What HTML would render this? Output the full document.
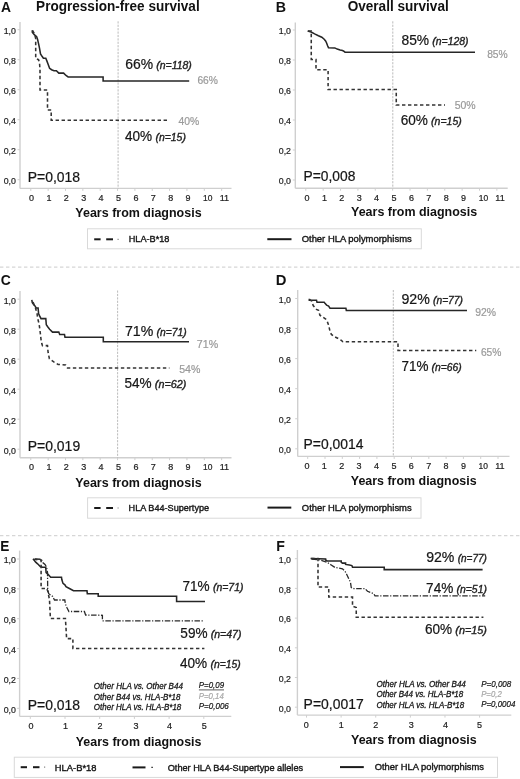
<!DOCTYPE html>
<html><head><meta charset="utf-8"><title>Kaplan-Meier survival curves</title>
<style>
html,body{margin:0;padding:0;background:#fff;width:520px;height:779px;overflow:hidden}
svg{display:block;filter:blur(0.3px);font-family:"Liberation Sans", sans-serif}
</style></head><body>
<svg width="520" height="779" viewBox="0 0 520 779" font-family='"Liberation Sans", sans-serif'>
<line x1="20.00" y1="22.00" x2="20.00" y2="188.40" stroke="#cfcfcf" stroke-width="1.4"/>
<line x1="20.00" y1="188.40" x2="231.50" y2="188.40" stroke="#cfcfcf" stroke-width="1.4"/>
<line x1="17.50" y1="179.70" x2="20.00" y2="179.70" stroke="#cfcfcf" stroke-width="1"/>
<text x="15.90" y="184.00" font-size="9.7" fill="#222" stroke="#222" stroke-width="0.22" text-anchor="end" textLength="12.20" lengthAdjust="spacingAndGlyphs">0,0</text>
<line x1="17.50" y1="149.70" x2="20.00" y2="149.70" stroke="#cfcfcf" stroke-width="1"/>
<text x="15.90" y="154.00" font-size="9.7" fill="#222" stroke="#222" stroke-width="0.22" text-anchor="end" textLength="12.20" lengthAdjust="spacingAndGlyphs">0,2</text>
<line x1="17.50" y1="119.70" x2="20.00" y2="119.70" stroke="#cfcfcf" stroke-width="1"/>
<text x="15.90" y="124.00" font-size="9.7" fill="#222" stroke="#222" stroke-width="0.22" text-anchor="end" textLength="12.20" lengthAdjust="spacingAndGlyphs">0,4</text>
<line x1="17.50" y1="89.70" x2="20.00" y2="89.70" stroke="#cfcfcf" stroke-width="1"/>
<text x="15.90" y="94.00" font-size="9.7" fill="#222" stroke="#222" stroke-width="0.22" text-anchor="end" textLength="12.20" lengthAdjust="spacingAndGlyphs">0,6</text>
<line x1="17.50" y1="59.70" x2="20.00" y2="59.70" stroke="#cfcfcf" stroke-width="1"/>
<text x="15.90" y="64.00" font-size="9.7" fill="#222" stroke="#222" stroke-width="0.22" text-anchor="end" textLength="12.20" lengthAdjust="spacingAndGlyphs">0,8</text>
<line x1="17.50" y1="29.70" x2="20.00" y2="29.70" stroke="#cfcfcf" stroke-width="1"/>
<text x="15.90" y="34.00" font-size="9.7" fill="#222" stroke="#222" stroke-width="0.22" text-anchor="end" textLength="12.20" lengthAdjust="spacingAndGlyphs">1,0</text>
<line x1="30.80" y1="188.40" x2="30.80" y2="190.90" stroke="#cfcfcf" stroke-width="1"/>
<text x="31.50" y="200.60" font-size="9.7" fill="#222" stroke="#222" stroke-width="0.22" text-anchor="middle" textLength="5.00" lengthAdjust="spacingAndGlyphs">0</text>
<line x1="48.15" y1="188.40" x2="48.15" y2="190.90" stroke="#cfcfcf" stroke-width="1"/>
<text x="48.90" y="200.60" font-size="9.7" fill="#222" stroke="#222" stroke-width="0.22" text-anchor="middle" textLength="5.00" lengthAdjust="spacingAndGlyphs">1</text>
<line x1="65.50" y1="188.40" x2="65.50" y2="190.90" stroke="#cfcfcf" stroke-width="1"/>
<text x="66.30" y="200.60" font-size="9.7" fill="#222" stroke="#222" stroke-width="0.22" text-anchor="middle" textLength="5.00" lengthAdjust="spacingAndGlyphs">2</text>
<line x1="82.85" y1="188.40" x2="82.85" y2="190.90" stroke="#cfcfcf" stroke-width="1"/>
<text x="83.70" y="200.60" font-size="9.7" fill="#222" stroke="#222" stroke-width="0.22" text-anchor="middle" textLength="5.00" lengthAdjust="spacingAndGlyphs">3</text>
<line x1="100.20" y1="188.40" x2="100.20" y2="190.90" stroke="#cfcfcf" stroke-width="1"/>
<text x="101.10" y="200.60" font-size="9.7" fill="#222" stroke="#222" stroke-width="0.22" text-anchor="middle" textLength="5.00" lengthAdjust="spacingAndGlyphs">4</text>
<line x1="117.55" y1="188.40" x2="117.55" y2="190.90" stroke="#cfcfcf" stroke-width="1"/>
<text x="118.50" y="200.60" font-size="9.7" fill="#222" stroke="#222" stroke-width="0.22" text-anchor="middle" textLength="5.00" lengthAdjust="spacingAndGlyphs">5</text>
<line x1="134.90" y1="188.40" x2="134.90" y2="190.90" stroke="#cfcfcf" stroke-width="1"/>
<text x="135.90" y="200.60" font-size="9.7" fill="#222" stroke="#222" stroke-width="0.22" text-anchor="middle" textLength="5.00" lengthAdjust="spacingAndGlyphs">6</text>
<line x1="152.25" y1="188.40" x2="152.25" y2="190.90" stroke="#cfcfcf" stroke-width="1"/>
<text x="153.30" y="200.60" font-size="9.7" fill="#222" stroke="#222" stroke-width="0.22" text-anchor="middle" textLength="5.00" lengthAdjust="spacingAndGlyphs">7</text>
<line x1="169.60" y1="188.40" x2="169.60" y2="190.90" stroke="#cfcfcf" stroke-width="1"/>
<text x="170.70" y="200.60" font-size="9.7" fill="#222" stroke="#222" stroke-width="0.22" text-anchor="middle" textLength="5.00" lengthAdjust="spacingAndGlyphs">8</text>
<line x1="186.95" y1="188.40" x2="186.95" y2="190.90" stroke="#cfcfcf" stroke-width="1"/>
<text x="188.10" y="200.60" font-size="9.7" fill="#222" stroke="#222" stroke-width="0.22" text-anchor="middle" textLength="5.00" lengthAdjust="spacingAndGlyphs">9</text>
<line x1="204.30" y1="188.40" x2="204.30" y2="190.90" stroke="#cfcfcf" stroke-width="1"/>
<text x="207.70" y="200.60" font-size="9.7" fill="#222" stroke="#222" stroke-width="0.22" text-anchor="middle" textLength="9.40" lengthAdjust="spacingAndGlyphs">10</text>
<line x1="221.65" y1="188.40" x2="221.65" y2="190.90" stroke="#cfcfcf" stroke-width="1"/>
<text x="224.40" y="200.60" font-size="9.7" fill="#222" stroke="#222" stroke-width="0.22" text-anchor="middle" textLength="9.40" lengthAdjust="spacingAndGlyphs">11</text>
<line x1="295.30" y1="22.50" x2="295.30" y2="188.20" stroke="#cfcfcf" stroke-width="1.4"/>
<line x1="295.30" y1="188.20" x2="507.70" y2="188.20" stroke="#cfcfcf" stroke-width="1.4"/>
<line x1="292.80" y1="180.00" x2="295.30" y2="180.00" stroke="#cfcfcf" stroke-width="1"/>
<text x="291.00" y="184.30" font-size="9.7" fill="#222" stroke="#222" stroke-width="0.22" text-anchor="end" textLength="12.20" lengthAdjust="spacingAndGlyphs">0,0</text>
<line x1="292.80" y1="150.00" x2="295.30" y2="150.00" stroke="#cfcfcf" stroke-width="1"/>
<text x="291.00" y="154.30" font-size="9.7" fill="#222" stroke="#222" stroke-width="0.22" text-anchor="end" textLength="12.20" lengthAdjust="spacingAndGlyphs">0,2</text>
<line x1="292.80" y1="120.00" x2="295.30" y2="120.00" stroke="#cfcfcf" stroke-width="1"/>
<text x="291.00" y="124.30" font-size="9.7" fill="#222" stroke="#222" stroke-width="0.22" text-anchor="end" textLength="12.20" lengthAdjust="spacingAndGlyphs">0,4</text>
<line x1="292.80" y1="90.00" x2="295.30" y2="90.00" stroke="#cfcfcf" stroke-width="1"/>
<text x="291.00" y="94.30" font-size="9.7" fill="#222" stroke="#222" stroke-width="0.22" text-anchor="end" textLength="12.20" lengthAdjust="spacingAndGlyphs">0,6</text>
<line x1="292.80" y1="60.00" x2="295.30" y2="60.00" stroke="#cfcfcf" stroke-width="1"/>
<text x="291.00" y="64.30" font-size="9.7" fill="#222" stroke="#222" stroke-width="0.22" text-anchor="end" textLength="12.20" lengthAdjust="spacingAndGlyphs">0,8</text>
<line x1="292.80" y1="30.00" x2="295.30" y2="30.00" stroke="#cfcfcf" stroke-width="1"/>
<text x="291.00" y="34.30" font-size="9.7" fill="#222" stroke="#222" stroke-width="0.22" text-anchor="end" textLength="12.20" lengthAdjust="spacingAndGlyphs">1,0</text>
<line x1="305.80" y1="188.20" x2="305.80" y2="190.70" stroke="#cfcfcf" stroke-width="1"/>
<text x="307.00" y="200.50" font-size="9.7" fill="#222" stroke="#222" stroke-width="0.22" text-anchor="middle" textLength="5.00" lengthAdjust="spacingAndGlyphs">0</text>
<line x1="323.17" y1="188.20" x2="323.17" y2="190.70" stroke="#cfcfcf" stroke-width="1"/>
<text x="324.40" y="200.50" font-size="9.7" fill="#222" stroke="#222" stroke-width="0.22" text-anchor="middle" textLength="5.00" lengthAdjust="spacingAndGlyphs">1</text>
<line x1="340.54" y1="188.20" x2="340.54" y2="190.70" stroke="#cfcfcf" stroke-width="1"/>
<text x="341.80" y="200.50" font-size="9.7" fill="#222" stroke="#222" stroke-width="0.22" text-anchor="middle" textLength="5.00" lengthAdjust="spacingAndGlyphs">2</text>
<line x1="357.91" y1="188.20" x2="357.91" y2="190.70" stroke="#cfcfcf" stroke-width="1"/>
<text x="359.20" y="200.50" font-size="9.7" fill="#222" stroke="#222" stroke-width="0.22" text-anchor="middle" textLength="5.00" lengthAdjust="spacingAndGlyphs">3</text>
<line x1="375.28" y1="188.20" x2="375.28" y2="190.70" stroke="#cfcfcf" stroke-width="1"/>
<text x="376.60" y="200.50" font-size="9.7" fill="#222" stroke="#222" stroke-width="0.22" text-anchor="middle" textLength="5.00" lengthAdjust="spacingAndGlyphs">4</text>
<line x1="392.65" y1="188.20" x2="392.65" y2="190.70" stroke="#cfcfcf" stroke-width="1"/>
<text x="394.00" y="200.50" font-size="9.7" fill="#222" stroke="#222" stroke-width="0.22" text-anchor="middle" textLength="5.00" lengthAdjust="spacingAndGlyphs">5</text>
<line x1="410.02" y1="188.20" x2="410.02" y2="190.70" stroke="#cfcfcf" stroke-width="1"/>
<text x="411.40" y="200.50" font-size="9.7" fill="#222" stroke="#222" stroke-width="0.22" text-anchor="middle" textLength="5.00" lengthAdjust="spacingAndGlyphs">6</text>
<line x1="427.39" y1="188.20" x2="427.39" y2="190.70" stroke="#cfcfcf" stroke-width="1"/>
<text x="428.80" y="200.50" font-size="9.7" fill="#222" stroke="#222" stroke-width="0.22" text-anchor="middle" textLength="5.00" lengthAdjust="spacingAndGlyphs">7</text>
<line x1="444.76" y1="188.20" x2="444.76" y2="190.70" stroke="#cfcfcf" stroke-width="1"/>
<text x="446.20" y="200.50" font-size="9.7" fill="#222" stroke="#222" stroke-width="0.22" text-anchor="middle" textLength="5.00" lengthAdjust="spacingAndGlyphs">8</text>
<line x1="462.13" y1="188.20" x2="462.13" y2="190.70" stroke="#cfcfcf" stroke-width="1"/>
<text x="463.60" y="200.50" font-size="9.7" fill="#222" stroke="#222" stroke-width="0.22" text-anchor="middle" textLength="5.00" lengthAdjust="spacingAndGlyphs">9</text>
<line x1="479.50" y1="188.20" x2="479.50" y2="190.70" stroke="#cfcfcf" stroke-width="1"/>
<text x="483.40" y="200.50" font-size="9.7" fill="#222" stroke="#222" stroke-width="0.22" text-anchor="middle" textLength="9.40" lengthAdjust="spacingAndGlyphs">10</text>
<line x1="496.87" y1="188.20" x2="496.87" y2="190.70" stroke="#cfcfcf" stroke-width="1"/>
<text x="500.00" y="200.50" font-size="9.7" fill="#222" stroke="#222" stroke-width="0.22" text-anchor="middle" textLength="9.40" lengthAdjust="spacingAndGlyphs">11</text>
<line x1="20.00" y1="291.00" x2="20.00" y2="457.70" stroke="#cfcfcf" stroke-width="1.4"/>
<line x1="20.00" y1="457.70" x2="231.50" y2="457.70" stroke="#cfcfcf" stroke-width="1.4"/>
<line x1="17.50" y1="449.20" x2="20.00" y2="449.20" stroke="#cfcfcf" stroke-width="1"/>
<text x="15.90" y="453.50" font-size="9.7" fill="#222" stroke="#222" stroke-width="0.22" text-anchor="end" textLength="12.20" lengthAdjust="spacingAndGlyphs">0,0</text>
<line x1="17.50" y1="419.20" x2="20.00" y2="419.20" stroke="#cfcfcf" stroke-width="1"/>
<text x="15.90" y="423.50" font-size="9.7" fill="#222" stroke="#222" stroke-width="0.22" text-anchor="end" textLength="12.20" lengthAdjust="spacingAndGlyphs">0,2</text>
<line x1="17.50" y1="389.20" x2="20.00" y2="389.20" stroke="#cfcfcf" stroke-width="1"/>
<text x="15.90" y="393.50" font-size="9.7" fill="#222" stroke="#222" stroke-width="0.22" text-anchor="end" textLength="12.20" lengthAdjust="spacingAndGlyphs">0,4</text>
<line x1="17.50" y1="359.20" x2="20.00" y2="359.20" stroke="#cfcfcf" stroke-width="1"/>
<text x="15.90" y="363.50" font-size="9.7" fill="#222" stroke="#222" stroke-width="0.22" text-anchor="end" textLength="12.20" lengthAdjust="spacingAndGlyphs">0,6</text>
<line x1="17.50" y1="329.20" x2="20.00" y2="329.20" stroke="#cfcfcf" stroke-width="1"/>
<text x="15.90" y="333.50" font-size="9.7" fill="#222" stroke="#222" stroke-width="0.22" text-anchor="end" textLength="12.20" lengthAdjust="spacingAndGlyphs">0,8</text>
<line x1="17.50" y1="299.20" x2="20.00" y2="299.20" stroke="#cfcfcf" stroke-width="1"/>
<text x="15.90" y="303.50" font-size="9.7" fill="#222" stroke="#222" stroke-width="0.22" text-anchor="end" textLength="12.20" lengthAdjust="spacingAndGlyphs">1,0</text>
<line x1="30.80" y1="457.70" x2="30.80" y2="460.20" stroke="#cfcfcf" stroke-width="1"/>
<text x="31.50" y="470.40" font-size="9.7" fill="#222" stroke="#222" stroke-width="0.22" text-anchor="middle" textLength="5.00" lengthAdjust="spacingAndGlyphs">0</text>
<line x1="48.15" y1="457.70" x2="48.15" y2="460.20" stroke="#cfcfcf" stroke-width="1"/>
<text x="48.90" y="470.40" font-size="9.7" fill="#222" stroke="#222" stroke-width="0.22" text-anchor="middle" textLength="5.00" lengthAdjust="spacingAndGlyphs">1</text>
<line x1="65.50" y1="457.70" x2="65.50" y2="460.20" stroke="#cfcfcf" stroke-width="1"/>
<text x="66.30" y="470.40" font-size="9.7" fill="#222" stroke="#222" stroke-width="0.22" text-anchor="middle" textLength="5.00" lengthAdjust="spacingAndGlyphs">2</text>
<line x1="82.85" y1="457.70" x2="82.85" y2="460.20" stroke="#cfcfcf" stroke-width="1"/>
<text x="83.70" y="470.40" font-size="9.7" fill="#222" stroke="#222" stroke-width="0.22" text-anchor="middle" textLength="5.00" lengthAdjust="spacingAndGlyphs">3</text>
<line x1="100.20" y1="457.70" x2="100.20" y2="460.20" stroke="#cfcfcf" stroke-width="1"/>
<text x="101.10" y="470.40" font-size="9.7" fill="#222" stroke="#222" stroke-width="0.22" text-anchor="middle" textLength="5.00" lengthAdjust="spacingAndGlyphs">4</text>
<line x1="117.55" y1="457.70" x2="117.55" y2="460.20" stroke="#cfcfcf" stroke-width="1"/>
<text x="118.50" y="470.40" font-size="9.7" fill="#222" stroke="#222" stroke-width="0.22" text-anchor="middle" textLength="5.00" lengthAdjust="spacingAndGlyphs">5</text>
<line x1="134.90" y1="457.70" x2="134.90" y2="460.20" stroke="#cfcfcf" stroke-width="1"/>
<text x="135.90" y="470.40" font-size="9.7" fill="#222" stroke="#222" stroke-width="0.22" text-anchor="middle" textLength="5.00" lengthAdjust="spacingAndGlyphs">6</text>
<line x1="152.25" y1="457.70" x2="152.25" y2="460.20" stroke="#cfcfcf" stroke-width="1"/>
<text x="153.30" y="470.40" font-size="9.7" fill="#222" stroke="#222" stroke-width="0.22" text-anchor="middle" textLength="5.00" lengthAdjust="spacingAndGlyphs">7</text>
<line x1="169.60" y1="457.70" x2="169.60" y2="460.20" stroke="#cfcfcf" stroke-width="1"/>
<text x="170.70" y="470.40" font-size="9.7" fill="#222" stroke="#222" stroke-width="0.22" text-anchor="middle" textLength="5.00" lengthAdjust="spacingAndGlyphs">8</text>
<line x1="186.95" y1="457.70" x2="186.95" y2="460.20" stroke="#cfcfcf" stroke-width="1"/>
<text x="188.10" y="470.40" font-size="9.7" fill="#222" stroke="#222" stroke-width="0.22" text-anchor="middle" textLength="5.00" lengthAdjust="spacingAndGlyphs">9</text>
<line x1="204.30" y1="457.70" x2="204.30" y2="460.20" stroke="#cfcfcf" stroke-width="1"/>
<text x="207.70" y="470.40" font-size="9.7" fill="#222" stroke="#222" stroke-width="0.22" text-anchor="middle" textLength="9.40" lengthAdjust="spacingAndGlyphs">10</text>
<line x1="221.65" y1="457.70" x2="221.65" y2="460.20" stroke="#cfcfcf" stroke-width="1"/>
<text x="224.40" y="470.40" font-size="9.7" fill="#222" stroke="#222" stroke-width="0.22" text-anchor="middle" textLength="9.40" lengthAdjust="spacingAndGlyphs">11</text>
<line x1="297.70" y1="290.00" x2="297.70" y2="456.40" stroke="#cfcfcf" stroke-width="1.4"/>
<line x1="297.70" y1="456.40" x2="509.50" y2="456.40" stroke="#cfcfcf" stroke-width="1.4"/>
<line x1="295.20" y1="448.80" x2="297.70" y2="448.80" stroke="#cfcfcf" stroke-width="1"/>
<text x="291.00" y="453.10" font-size="9.7" fill="#222" stroke="#222" stroke-width="0.22" text-anchor="end" textLength="12.20" lengthAdjust="spacingAndGlyphs">0,0</text>
<line x1="295.20" y1="418.74" x2="297.70" y2="418.74" stroke="#cfcfcf" stroke-width="1"/>
<text x="291.00" y="423.04" font-size="9.7" fill="#222" stroke="#222" stroke-width="0.22" text-anchor="end" textLength="12.20" lengthAdjust="spacingAndGlyphs">0,2</text>
<line x1="295.20" y1="388.68" x2="297.70" y2="388.68" stroke="#cfcfcf" stroke-width="1"/>
<text x="291.00" y="392.98" font-size="9.7" fill="#222" stroke="#222" stroke-width="0.22" text-anchor="end" textLength="12.20" lengthAdjust="spacingAndGlyphs">0,4</text>
<line x1="295.20" y1="358.62" x2="297.70" y2="358.62" stroke="#cfcfcf" stroke-width="1"/>
<text x="291.00" y="362.92" font-size="9.7" fill="#222" stroke="#222" stroke-width="0.22" text-anchor="end" textLength="12.20" lengthAdjust="spacingAndGlyphs">0,6</text>
<line x1="295.20" y1="328.56" x2="297.70" y2="328.56" stroke="#cfcfcf" stroke-width="1"/>
<text x="291.00" y="332.86" font-size="9.7" fill="#222" stroke="#222" stroke-width="0.22" text-anchor="end" textLength="12.20" lengthAdjust="spacingAndGlyphs">0,8</text>
<line x1="295.20" y1="298.50" x2="297.70" y2="298.50" stroke="#cfcfcf" stroke-width="1"/>
<text x="291.00" y="302.80" font-size="9.7" fill="#222" stroke="#222" stroke-width="0.22" text-anchor="end" textLength="12.20" lengthAdjust="spacingAndGlyphs">1,0</text>
<line x1="307.70" y1="456.40" x2="307.70" y2="458.90" stroke="#cfcfcf" stroke-width="1"/>
<text x="306.90" y="468.90" font-size="9.7" fill="#222" stroke="#222" stroke-width="0.22" text-anchor="middle" textLength="5.00" lengthAdjust="spacingAndGlyphs">0</text>
<line x1="325.00" y1="456.40" x2="325.00" y2="458.90" stroke="#cfcfcf" stroke-width="1"/>
<text x="324.30" y="468.90" font-size="9.7" fill="#222" stroke="#222" stroke-width="0.22" text-anchor="middle" textLength="5.00" lengthAdjust="spacingAndGlyphs">1</text>
<line x1="342.30" y1="456.40" x2="342.30" y2="458.90" stroke="#cfcfcf" stroke-width="1"/>
<text x="341.70" y="468.90" font-size="9.7" fill="#222" stroke="#222" stroke-width="0.22" text-anchor="middle" textLength="5.00" lengthAdjust="spacingAndGlyphs">2</text>
<line x1="359.60" y1="456.40" x2="359.60" y2="458.90" stroke="#cfcfcf" stroke-width="1"/>
<text x="359.10" y="468.90" font-size="9.7" fill="#222" stroke="#222" stroke-width="0.22" text-anchor="middle" textLength="5.00" lengthAdjust="spacingAndGlyphs">3</text>
<line x1="376.90" y1="456.40" x2="376.90" y2="458.90" stroke="#cfcfcf" stroke-width="1"/>
<text x="376.50" y="468.90" font-size="9.7" fill="#222" stroke="#222" stroke-width="0.22" text-anchor="middle" textLength="5.00" lengthAdjust="spacingAndGlyphs">4</text>
<line x1="394.20" y1="456.40" x2="394.20" y2="458.90" stroke="#cfcfcf" stroke-width="1"/>
<text x="393.90" y="468.90" font-size="9.7" fill="#222" stroke="#222" stroke-width="0.22" text-anchor="middle" textLength="5.00" lengthAdjust="spacingAndGlyphs">5</text>
<line x1="411.50" y1="456.40" x2="411.50" y2="458.90" stroke="#cfcfcf" stroke-width="1"/>
<text x="411.30" y="468.90" font-size="9.7" fill="#222" stroke="#222" stroke-width="0.22" text-anchor="middle" textLength="5.00" lengthAdjust="spacingAndGlyphs">6</text>
<line x1="428.80" y1="456.40" x2="428.80" y2="458.90" stroke="#cfcfcf" stroke-width="1"/>
<text x="428.70" y="468.90" font-size="9.7" fill="#222" stroke="#222" stroke-width="0.22" text-anchor="middle" textLength="5.00" lengthAdjust="spacingAndGlyphs">7</text>
<line x1="446.10" y1="456.40" x2="446.10" y2="458.90" stroke="#cfcfcf" stroke-width="1"/>
<text x="446.10" y="468.90" font-size="9.7" fill="#222" stroke="#222" stroke-width="0.22" text-anchor="middle" textLength="5.00" lengthAdjust="spacingAndGlyphs">8</text>
<line x1="463.40" y1="456.40" x2="463.40" y2="458.90" stroke="#cfcfcf" stroke-width="1"/>
<text x="463.50" y="468.90" font-size="9.7" fill="#222" stroke="#222" stroke-width="0.22" text-anchor="middle" textLength="5.00" lengthAdjust="spacingAndGlyphs">9</text>
<line x1="480.70" y1="456.40" x2="480.70" y2="458.90" stroke="#cfcfcf" stroke-width="1"/>
<text x="483.30" y="468.90" font-size="9.7" fill="#222" stroke="#222" stroke-width="0.22" text-anchor="middle" textLength="9.40" lengthAdjust="spacingAndGlyphs">10</text>
<line x1="498.00" y1="456.40" x2="498.00" y2="458.90" stroke="#cfcfcf" stroke-width="1"/>
<text x="499.90" y="468.90" font-size="9.7" fill="#222" stroke="#222" stroke-width="0.22" text-anchor="middle" textLength="9.40" lengthAdjust="spacingAndGlyphs">11</text>
<line x1="19.60" y1="550.60" x2="19.60" y2="716.40" stroke="#cfcfcf" stroke-width="1.4"/>
<line x1="19.60" y1="716.40" x2="231.30" y2="716.40" stroke="#cfcfcf" stroke-width="1.4"/>
<line x1="17.10" y1="708.30" x2="19.60" y2="708.30" stroke="#cfcfcf" stroke-width="1"/>
<text x="15.90" y="712.60" font-size="9.7" fill="#222" stroke="#222" stroke-width="0.22" text-anchor="end" textLength="12.20" lengthAdjust="spacingAndGlyphs">0,0</text>
<line x1="17.10" y1="678.44" x2="19.60" y2="678.44" stroke="#cfcfcf" stroke-width="1"/>
<text x="15.90" y="682.74" font-size="9.7" fill="#222" stroke="#222" stroke-width="0.22" text-anchor="end" textLength="12.20" lengthAdjust="spacingAndGlyphs">0,2</text>
<line x1="17.10" y1="648.58" x2="19.60" y2="648.58" stroke="#cfcfcf" stroke-width="1"/>
<text x="15.90" y="652.88" font-size="9.7" fill="#222" stroke="#222" stroke-width="0.22" text-anchor="end" textLength="12.20" lengthAdjust="spacingAndGlyphs">0,4</text>
<line x1="17.10" y1="618.72" x2="19.60" y2="618.72" stroke="#cfcfcf" stroke-width="1"/>
<text x="15.90" y="623.02" font-size="9.7" fill="#222" stroke="#222" stroke-width="0.22" text-anchor="end" textLength="12.20" lengthAdjust="spacingAndGlyphs">0,6</text>
<line x1="17.10" y1="588.86" x2="19.60" y2="588.86" stroke="#cfcfcf" stroke-width="1"/>
<text x="15.90" y="593.16" font-size="9.7" fill="#222" stroke="#222" stroke-width="0.22" text-anchor="end" textLength="12.20" lengthAdjust="spacingAndGlyphs">0,8</text>
<line x1="17.10" y1="559.00" x2="19.60" y2="559.00" stroke="#cfcfcf" stroke-width="1"/>
<text x="15.90" y="563.30" font-size="9.7" fill="#222" stroke="#222" stroke-width="0.22" text-anchor="end" textLength="12.20" lengthAdjust="spacingAndGlyphs">1,0</text>
<line x1="30.30" y1="716.40" x2="30.30" y2="718.90" stroke="#cfcfcf" stroke-width="1"/>
<text x="31.00" y="729.40" font-size="9.7" fill="#222" stroke="#222" stroke-width="0.22" text-anchor="middle" textLength="5.00" lengthAdjust="spacingAndGlyphs">0</text>
<line x1="65.00" y1="716.40" x2="65.00" y2="718.90" stroke="#cfcfcf" stroke-width="1"/>
<text x="65.50" y="729.40" font-size="9.7" fill="#222" stroke="#222" stroke-width="0.22" text-anchor="middle" textLength="5.00" lengthAdjust="spacingAndGlyphs">1</text>
<line x1="99.70" y1="716.40" x2="99.70" y2="718.90" stroke="#cfcfcf" stroke-width="1"/>
<text x="100.00" y="729.40" font-size="9.7" fill="#222" stroke="#222" stroke-width="0.22" text-anchor="middle" textLength="5.00" lengthAdjust="spacingAndGlyphs">2</text>
<line x1="134.40" y1="716.40" x2="134.40" y2="718.90" stroke="#cfcfcf" stroke-width="1"/>
<text x="136.00" y="729.40" font-size="9.7" fill="#222" stroke="#222" stroke-width="0.22" text-anchor="middle" textLength="5.00" lengthAdjust="spacingAndGlyphs">3</text>
<line x1="169.10" y1="716.40" x2="169.10" y2="718.90" stroke="#cfcfcf" stroke-width="1"/>
<text x="169.50" y="729.40" font-size="9.7" fill="#222" stroke="#222" stroke-width="0.22" text-anchor="middle" textLength="5.00" lengthAdjust="spacingAndGlyphs">4</text>
<line x1="203.80" y1="716.40" x2="203.80" y2="718.90" stroke="#cfcfcf" stroke-width="1"/>
<text x="204.25" y="729.40" font-size="9.7" fill="#222" stroke="#222" stroke-width="0.22" text-anchor="middle" textLength="5.00" lengthAdjust="spacingAndGlyphs">5</text>
<line x1="297.40" y1="550.00" x2="297.40" y2="715.10" stroke="#cfcfcf" stroke-width="1.4"/>
<line x1="297.40" y1="715.10" x2="511.30" y2="715.10" stroke="#cfcfcf" stroke-width="1.4"/>
<line x1="294.90" y1="707.20" x2="297.40" y2="707.20" stroke="#cfcfcf" stroke-width="1"/>
<text x="291.00" y="711.50" font-size="9.7" fill="#222" stroke="#222" stroke-width="0.22" text-anchor="end" textLength="12.20" lengthAdjust="spacingAndGlyphs">0,0</text>
<line x1="294.90" y1="677.50" x2="297.40" y2="677.50" stroke="#cfcfcf" stroke-width="1"/>
<text x="291.00" y="681.80" font-size="9.7" fill="#222" stroke="#222" stroke-width="0.22" text-anchor="end" textLength="12.20" lengthAdjust="spacingAndGlyphs">0,2</text>
<line x1="294.90" y1="647.80" x2="297.40" y2="647.80" stroke="#cfcfcf" stroke-width="1"/>
<text x="291.00" y="652.10" font-size="9.7" fill="#222" stroke="#222" stroke-width="0.22" text-anchor="end" textLength="12.20" lengthAdjust="spacingAndGlyphs">0,4</text>
<line x1="294.90" y1="618.10" x2="297.40" y2="618.10" stroke="#cfcfcf" stroke-width="1"/>
<text x="291.00" y="622.40" font-size="9.7" fill="#222" stroke="#222" stroke-width="0.22" text-anchor="end" textLength="12.20" lengthAdjust="spacingAndGlyphs">0,6</text>
<line x1="294.90" y1="588.40" x2="297.40" y2="588.40" stroke="#cfcfcf" stroke-width="1"/>
<text x="291.00" y="592.70" font-size="9.7" fill="#222" stroke="#222" stroke-width="0.22" text-anchor="end" textLength="12.20" lengthAdjust="spacingAndGlyphs">0,8</text>
<line x1="294.90" y1="558.70" x2="297.40" y2="558.70" stroke="#cfcfcf" stroke-width="1"/>
<text x="291.00" y="563.00" font-size="9.7" fill="#222" stroke="#222" stroke-width="0.22" text-anchor="end" textLength="12.20" lengthAdjust="spacingAndGlyphs">1,0</text>
<line x1="306.50" y1="715.10" x2="306.50" y2="717.60" stroke="#cfcfcf" stroke-width="1"/>
<text x="306.30" y="728.10" font-size="9.7" fill="#222" stroke="#222" stroke-width="0.22" text-anchor="middle" textLength="5.00" lengthAdjust="spacingAndGlyphs">0</text>
<line x1="341.12" y1="715.10" x2="341.12" y2="717.60" stroke="#cfcfcf" stroke-width="1"/>
<text x="341.25" y="728.10" font-size="9.7" fill="#222" stroke="#222" stroke-width="0.22" text-anchor="middle" textLength="5.00" lengthAdjust="spacingAndGlyphs">1</text>
<line x1="375.74" y1="715.10" x2="375.74" y2="717.60" stroke="#cfcfcf" stroke-width="1"/>
<text x="375.75" y="728.10" font-size="9.7" fill="#222" stroke="#222" stroke-width="0.22" text-anchor="middle" textLength="5.00" lengthAdjust="spacingAndGlyphs">2</text>
<line x1="410.36" y1="715.10" x2="410.36" y2="717.60" stroke="#cfcfcf" stroke-width="1"/>
<text x="411.25" y="728.10" font-size="9.7" fill="#222" stroke="#222" stroke-width="0.22" text-anchor="middle" textLength="5.00" lengthAdjust="spacingAndGlyphs">3</text>
<line x1="444.98" y1="715.10" x2="444.98" y2="717.60" stroke="#cfcfcf" stroke-width="1"/>
<text x="445.50" y="728.10" font-size="9.7" fill="#222" stroke="#222" stroke-width="0.22" text-anchor="middle" textLength="5.00" lengthAdjust="spacingAndGlyphs">4</text>
<line x1="479.60" y1="715.10" x2="479.60" y2="717.60" stroke="#cfcfcf" stroke-width="1"/>
<text x="479.50" y="728.10" font-size="9.7" fill="#222" stroke="#222" stroke-width="0.22" text-anchor="middle" textLength="5.00" lengthAdjust="spacingAndGlyphs">5</text>
<line x1="118.10" y1="21.30" x2="118.10" y2="188.40" stroke="#b4b4b4" stroke-width="0.9" stroke-dasharray="2.2,1.2"/>
<line x1="392.80" y1="21.30" x2="392.80" y2="188.20" stroke="#b4b4b4" stroke-width="0.9" stroke-dasharray="2.2,1.2"/>
<line x1="117.60" y1="290.50" x2="117.60" y2="457.70" stroke="#b4b4b4" stroke-width="0.9" stroke-dasharray="2.2,1.2"/>
<line x1="393.30" y1="290.00" x2="393.30" y2="456.40" stroke="#b4b4b4" stroke-width="0.9" stroke-dasharray="2.2,1.2"/>
<line x1="0.00" y1="267.20" x2="520.00" y2="267.20" stroke="#d6d6d6" stroke-width="1.2" stroke-dasharray="3.4,2.6"/>
<line x1="0.00" y1="535.60" x2="520.00" y2="535.60" stroke="#d6d6d6" stroke-width="1.2" stroke-dasharray="3.4,2.6"/>
<text x="0.95" y="12.00" font-size="14.1" font-weight="bold" fill="#111" textLength="10.02" lengthAdjust="spacingAndGlyphs">A</text>
<text x="36.12" y="11.00" font-size="14.1" font-weight="bold" fill="#111" textLength="163.57" lengthAdjust="spacingAndGlyphs">Progression-free survival</text>
<text x="275.77" y="11.90" font-size="14.1" font-weight="bold" fill="#111" textLength="10.30" lengthAdjust="spacingAndGlyphs">B</text>
<text x="347.66" y="10.90" font-size="14.1" font-weight="bold" fill="#111" textLength="101.08" lengthAdjust="spacingAndGlyphs">Overall survival</text>
<text x="0.64" y="284.50" font-size="14.1" font-weight="bold" fill="#111" textLength="10.03" lengthAdjust="spacingAndGlyphs">C</text>
<text x="275.74" y="284.70" font-size="14.1" font-weight="bold" fill="#111" textLength="10.69" lengthAdjust="spacingAndGlyphs">D</text>
<text x="0.31" y="550.60" font-size="14.1" font-weight="bold" fill="#111" textLength="9.09" lengthAdjust="spacingAndGlyphs">E</text>
<text x="276.18" y="550.60" font-size="14.1" font-weight="bold" fill="#111" textLength="8.62" lengthAdjust="spacingAndGlyphs">F</text>
<text x="75.35" y="217.00" font-size="12.4" font-weight="bold" fill="#111" textLength="126.25" lengthAdjust="spacingAndGlyphs">Years from diagnosis</text>
<text x="351.05" y="216.30" font-size="12.4" font-weight="bold" fill="#111" textLength="126.05" lengthAdjust="spacingAndGlyphs">Years from diagnosis</text>
<text x="75.35" y="486.70" font-size="12.4" font-weight="bold" fill="#111" textLength="126.25" lengthAdjust="spacingAndGlyphs">Years from diagnosis</text>
<text x="350.85" y="485.00" font-size="12.4" font-weight="bold" fill="#111" textLength="125.74" lengthAdjust="spacingAndGlyphs">Years from diagnosis</text>
<text x="75.75" y="745.70" font-size="12.4" font-weight="bold" fill="#111" textLength="125.74" lengthAdjust="spacingAndGlyphs">Years from diagnosis</text>
<text x="351.05" y="743.80" font-size="12.4" font-weight="bold" fill="#111" textLength="125.64" lengthAdjust="spacingAndGlyphs">Years from diagnosis</text>
<text x="27.78" y="181.50" font-size="14.0" fill="#161616" stroke="#161616" stroke-width="0.22" textLength="52.32" lengthAdjust="spacingAndGlyphs">P=0,018</text>
<text x="303.60" y="181.20" font-size="14.0" fill="#161616" stroke="#161616" stroke-width="0.22" textLength="51.80" lengthAdjust="spacingAndGlyphs">P=0,008</text>
<text x="27.78" y="450.70" font-size="14.0" fill="#161616" stroke="#161616" stroke-width="0.22" textLength="52.39" lengthAdjust="spacingAndGlyphs">P=0,019</text>
<text x="303.59" y="449.20" font-size="14.0" fill="#161616" stroke="#161616" stroke-width="0.22" textLength="59.82" lengthAdjust="spacingAndGlyphs">P=0,0014</text>
<text x="27.78" y="710.10" font-size="14.0" fill="#161616" stroke="#161616" stroke-width="0.22" textLength="52.32" lengthAdjust="spacingAndGlyphs">P=0,018</text>
<text x="303.58" y="708.60" font-size="14.0" fill="#161616" stroke="#161616" stroke-width="0.22" textLength="60.11" lengthAdjust="spacingAndGlyphs">P=0,0017</text>
<text x="125.21" y="69.20" font-size="14.0" fill="#161616" stroke="#161616" stroke-width="0.22" textLength="27.80" lengthAdjust="spacingAndGlyphs">66%</text>
<text x="156.23" y="69.20" font-size="10.0" font-style="italic" fill="#222" textLength="35.65" lengthAdjust="spacingAndGlyphs" stroke="#222" stroke-width="0.35">(n=118)</text>
<text x="197.39" y="83.70" font-size="11.2" fill="#9a9a9a" stroke="#9a9a9a" stroke-width="0.22" textLength="20.59" lengthAdjust="spacingAndGlyphs">66%</text>
<text x="178.39" y="124.70" font-size="11.2" fill="#9a9a9a" stroke="#9a9a9a" stroke-width="0.22" textLength="20.79" lengthAdjust="spacingAndGlyphs">40%</text>
<text x="125.03" y="141.30" font-size="14.0" fill="#161616" stroke="#161616" stroke-width="0.22" textLength="27.18" lengthAdjust="spacingAndGlyphs">40%</text>
<text x="155.44" y="141.30" font-size="10.0" font-style="italic" fill="#222" textLength="30.47" lengthAdjust="spacingAndGlyphs" stroke="#222" stroke-width="0.35">(n=15)</text>
<text x="401.48" y="45.00" font-size="14.0" fill="#161616" stroke="#161616" stroke-width="0.22" textLength="27.62" lengthAdjust="spacingAndGlyphs">85%</text>
<text x="432.33" y="45.00" font-size="10.0" font-style="italic" fill="#222" textLength="36.19" lengthAdjust="spacingAndGlyphs" stroke="#222" stroke-width="0.35">(n=128)</text>
<text x="487.14" y="58.00" font-size="11.2" fill="#9a9a9a" stroke="#9a9a9a" stroke-width="0.22" textLength="20.64" lengthAdjust="spacingAndGlyphs">85%</text>
<text x="454.68" y="108.80" font-size="11.2" fill="#9a9a9a" stroke="#9a9a9a" stroke-width="0.22" textLength="21.00" lengthAdjust="spacingAndGlyphs">50%</text>
<text x="400.72" y="125.00" font-size="14.0" fill="#161616" stroke="#161616" stroke-width="0.22" textLength="27.18" lengthAdjust="spacingAndGlyphs">60%</text>
<text x="431.13" y="125.00" font-size="10.0" font-style="italic" fill="#222" textLength="30.58" lengthAdjust="spacingAndGlyphs" stroke="#222" stroke-width="0.35">(n=15)</text>
<text x="124.99" y="336.00" font-size="14.0" fill="#161616" stroke="#161616" stroke-width="0.22" textLength="28.32" lengthAdjust="spacingAndGlyphs">71%</text>
<text x="156.54" y="336.00" font-size="10.0" font-style="italic" fill="#222" textLength="30.07" lengthAdjust="spacingAndGlyphs" stroke="#222" stroke-width="0.35">(n=71)</text>
<text x="196.87" y="347.80" font-size="11.2" fill="#9a9a9a" stroke="#9a9a9a" stroke-width="0.22" textLength="21.32" lengthAdjust="spacingAndGlyphs">71%</text>
<text x="179.18" y="373.20" font-size="11.2" fill="#9a9a9a" stroke="#9a9a9a" stroke-width="0.22" textLength="21.21" lengthAdjust="spacingAndGlyphs">54%</text>
<text x="124.46" y="388.40" font-size="14.0" fill="#161616" stroke="#161616" stroke-width="0.22" textLength="27.18" lengthAdjust="spacingAndGlyphs">54%</text>
<text x="154.86" y="388.40" font-size="10.0" font-style="italic" fill="#222" textLength="31.48" lengthAdjust="spacingAndGlyphs" stroke="#222" stroke-width="0.35">(n=62)</text>
<text x="401.46" y="303.80" font-size="14.0" fill="#161616" stroke="#161616" stroke-width="0.22" textLength="28.35" lengthAdjust="spacingAndGlyphs">92%</text>
<text x="433.04" y="303.80" font-size="10.0" font-style="italic" fill="#222" textLength="29.86" lengthAdjust="spacingAndGlyphs" stroke="#222" stroke-width="0.35">(n=77)</text>
<text x="475.13" y="315.50" font-size="11.2" fill="#9a9a9a" stroke="#9a9a9a" stroke-width="0.22" textLength="20.85" lengthAdjust="spacingAndGlyphs">92%</text>
<text x="480.89" y="355.50" font-size="11.2" fill="#9a9a9a" stroke="#9a9a9a" stroke-width="0.22" textLength="20.59" lengthAdjust="spacingAndGlyphs">65%</text>
<text x="401.43" y="371.30" font-size="14.0" fill="#161616" stroke="#161616" stroke-width="0.22" textLength="26.97" lengthAdjust="spacingAndGlyphs">71%</text>
<text x="431.64" y="371.30" font-size="10.0" font-style="italic" fill="#222" textLength="30.07" lengthAdjust="spacingAndGlyphs" stroke="#222" stroke-width="0.35">(n=66)</text>
<text x="182.52" y="591.40" font-size="14.0" fill="#161616" stroke="#161616" stroke-width="0.22" textLength="27.18" lengthAdjust="spacingAndGlyphs">71%</text>
<text x="212.94" y="591.40" font-size="10.0" font-style="italic" fill="#222" textLength="30.48" lengthAdjust="spacingAndGlyphs" stroke="#222" stroke-width="0.35">(n=71)</text>
<text x="180.36" y="638.10" font-size="14.0" fill="#161616" stroke="#161616" stroke-width="0.22" textLength="27.18" lengthAdjust="spacingAndGlyphs">59%</text>
<text x="210.77" y="638.10" font-size="10.0" font-style="italic" fill="#222" textLength="30.65" lengthAdjust="spacingAndGlyphs" stroke="#222" stroke-width="0.35">(n=47)</text>
<text x="180.03" y="667.50" font-size="14.0" fill="#161616" stroke="#161616" stroke-width="0.22" textLength="27.18" lengthAdjust="spacingAndGlyphs">40%</text>
<text x="210.45" y="667.50" font-size="10.0" font-style="italic" fill="#222" textLength="30.26" lengthAdjust="spacingAndGlyphs" stroke="#222" stroke-width="0.35">(n=15)</text>
<text x="426.16" y="562.00" font-size="14.0" fill="#161616" stroke="#161616" stroke-width="0.22" textLength="28.25" lengthAdjust="spacingAndGlyphs">92%</text>
<text x="457.65" y="562.00" font-size="10.0" font-style="italic" fill="#222" textLength="29.24" lengthAdjust="spacingAndGlyphs" stroke="#222" stroke-width="0.35">(n=77)</text>
<text x="426.12" y="593.30" font-size="14.0" fill="#161616" stroke="#161616" stroke-width="0.22" textLength="27.18" lengthAdjust="spacingAndGlyphs">74%</text>
<text x="456.54" y="593.30" font-size="10.0" font-style="italic" fill="#222" textLength="30.37" lengthAdjust="spacingAndGlyphs" stroke="#222" stroke-width="0.35">(n=51)</text>
<text x="424.92" y="633.80" font-size="14.0" fill="#161616" stroke="#161616" stroke-width="0.22" textLength="27.18" lengthAdjust="spacingAndGlyphs">60%</text>
<text x="455.32" y="633.80" font-size="10.0" font-style="italic" fill="#222" textLength="31.62" lengthAdjust="spacingAndGlyphs" stroke="#222" stroke-width="0.35">(n=15)</text>
<text x="93.86" y="688.60" font-size="8.6" font-style="italic" fill="#161616" textLength="89.01" lengthAdjust="spacingAndGlyphs" stroke="#161616" stroke-width="0.3">Other HLA vs. Other B44</text>
<text x="93.86" y="699.50" font-size="8.6" font-style="italic" fill="#161616" textLength="86.51" lengthAdjust="spacingAndGlyphs" stroke="#161616" stroke-width="0.3">Other B44 vs. HLA-B*18</text>
<text x="93.86" y="710.30" font-size="8.6" font-style="italic" fill="#161616" textLength="87.40" lengthAdjust="spacingAndGlyphs" stroke="#161616" stroke-width="0.3">Other HLA vs. HLA-B*18</text>
<text x="198.76" y="687.90" font-size="8.6" font-style="italic" fill="#161616" stroke="#161616" stroke-width="0.22" textLength="25.31" lengthAdjust="spacingAndGlyphs">P=0,09</text>
<line x1="198.90" y1="689.90" x2="224.00" y2="689.90" stroke="#333" stroke-width="0.8"/>
<text x="198.77" y="698.80" font-size="8.6" font-style="italic" fill="#a8a8a8" stroke="#a8a8a8" stroke-width="0.22" textLength="25.03" lengthAdjust="spacingAndGlyphs">P=0,14</text>
<text x="198.76" y="709.40" font-size="8.6" font-style="italic" fill="#161616" stroke="#161616" stroke-width="0.22" textLength="30.07" lengthAdjust="spacingAndGlyphs">P=0,006</text>
<text x="376.46" y="686.90" font-size="8.6" font-style="italic" fill="#161616" textLength="89.42" lengthAdjust="spacingAndGlyphs" stroke="#161616" stroke-width="0.3">Other HLA vs. Other B44</text>
<text x="376.46" y="697.10" font-size="8.6" font-style="italic" fill="#161616" textLength="86.81" lengthAdjust="spacingAndGlyphs" stroke="#161616" stroke-width="0.3">Other B44 vs. HLA-B*18</text>
<text x="376.46" y="707.70" font-size="8.6" font-style="italic" fill="#161616" textLength="87.80" lengthAdjust="spacingAndGlyphs" stroke="#161616" stroke-width="0.3">Other HLA vs. HLA-B*18</text>
<text x="481.16" y="686.50" font-size="8.6" font-style="italic" fill="#161616" stroke="#161616" stroke-width="0.22" textLength="30.11" lengthAdjust="spacingAndGlyphs">P=0,008</text>
<text x="481.17" y="696.60" font-size="8.6" font-style="italic" fill="#a8a8a8" stroke="#a8a8a8" stroke-width="0.22" textLength="20.56" lengthAdjust="spacingAndGlyphs">P=0,2</text>
<text x="481.16" y="706.80" font-size="8.6" font-style="italic" fill="#161616" stroke="#161616" stroke-width="0.22" textLength="34.21" lengthAdjust="spacingAndGlyphs">P=0,0004</text>
<rect x="87.50" y="228.80" width="333.80" height="20.00" fill="none" stroke="#d9d9d9" stroke-width="1"/>
<line x1="94.20" y1="239.30" x2="100.60" y2="239.30" stroke="#1a1a1a" stroke-width="2.0"/>
<line x1="106.20" y1="239.30" x2="113.00" y2="239.30" stroke="#1a1a1a" stroke-width="2.0"/>
<line x1="117.50" y1="239.30" x2="118.70" y2="239.30" stroke="#888" stroke-width="1.2"/>
<text x="128.67" y="242.10" font-size="9.4" fill="#161616" textLength="40.82" lengthAdjust="spacingAndGlyphs" stroke="#161616" stroke-width="0.38">HLA-B*18</text>
<line x1="267.30" y1="239.20" x2="291.50" y2="239.20" stroke="#1a1a1a" stroke-width="2.0"/>
<text x="301.68" y="242.10" font-size="9.4" fill="#161616" textLength="110.07" lengthAdjust="spacingAndGlyphs" stroke="#161616" stroke-width="0.38">Other HLA polymorphisms</text>
<rect x="87.60" y="497.80" width="333.40" height="20.40" fill="none" stroke="#d9d9d9" stroke-width="1"/>
<line x1="94.20" y1="508.00" x2="100.60" y2="508.00" stroke="#1a1a1a" stroke-width="2.0"/>
<line x1="106.20" y1="508.00" x2="113.00" y2="508.00" stroke="#1a1a1a" stroke-width="2.0"/>
<line x1="117.50" y1="508.00" x2="118.70" y2="508.00" stroke="#888" stroke-width="1.2"/>
<text x="128.57" y="511.10" font-size="9.4" fill="#161616" textLength="80.53" lengthAdjust="spacingAndGlyphs" stroke="#161616" stroke-width="0.38">HLA B44-Supertype</text>
<line x1="267.50" y1="507.60" x2="291.30" y2="507.60" stroke="#1a1a1a" stroke-width="2.0"/>
<text x="301.88" y="511.10" font-size="9.4" fill="#161616" textLength="109.76" lengthAdjust="spacingAndGlyphs" stroke="#161616" stroke-width="0.38">Other HLA polymorphisms</text>
<rect x="14.30" y="757.20" width="483.20" height="20.20" fill="none" stroke="#d9d9d9" stroke-width="1"/>
<line x1="20.70" y1="767.20" x2="27.00" y2="767.20" stroke="#1a1a1a" stroke-width="2.0"/>
<line x1="33.00" y1="767.20" x2="39.50" y2="767.20" stroke="#1a1a1a" stroke-width="2.0"/>
<line x1="44.00" y1="767.20" x2="45.20" y2="767.20" stroke="#888" stroke-width="1.2"/>
<text x="54.85" y="770.50" font-size="9.4" fill="#161616" textLength="41.64" lengthAdjust="spacingAndGlyphs" stroke="#161616" stroke-width="0.38">HLA-B*18</text>
<line x1="132.50" y1="767.40" x2="145.50" y2="767.40" stroke="#1a1a1a" stroke-width="2.0"/>
<line x1="151.40" y1="767.40" x2="152.80" y2="767.40" stroke="#1a1a1a" stroke-width="1.4"/>
<text x="167.69" y="770.70" font-size="9.4" fill="#161616" textLength="135.44" lengthAdjust="spacingAndGlyphs" stroke="#161616" stroke-width="0.38">Other HLA B44-Supertype alleles</text>
<line x1="340.00" y1="767.10" x2="363.80" y2="767.10" stroke="#1a1a1a" stroke-width="2.0"/>
<text x="374.68" y="770.20" font-size="9.4" fill="#161616" textLength="109.26" lengthAdjust="spacingAndGlyphs" stroke="#161616" stroke-width="0.38">Other HLA polymorphisms</text>
<path d="M32.30,30.30 L32.30,32.20 L34.25,34.70 L36.65,36.60 L37.60,39.50 L38.60,43.80 L39.50,48.10 L40.50,53.90 L42.40,56.80 L43.40,58.20 L45.80,58.20 L46.75,60.60 L48.20,64.50 L49.60,68.30 L51.60,69.75 L54.00,70.70 L56.40,70.70 L58.80,73.10 L63.60,73.10 L66.00,75.50 L68.10,76.90 L103.10,76.90 L103.10,80.90 L189.20,80.90" fill="none" stroke="#262626" stroke-width="1.55"/>
<path d="M32.50,30.50 L34.50,34.00 L35.70,38.50 L35.70,58.50 L38.50,59.70 L39.50,62.50 L40.00,70.00 L40.00,90.00 L47.50,90.00 L47.50,110.00 L51.20,110.00 L51.20,120.20 L168.30,120.20" fill="none" stroke="#333" stroke-width="1.55" stroke-dasharray="3.4,2.6"/>
<path d="M307.60,30.90 L311.20,32.00 L314.60,33.90 L318.40,35.80 L321.80,37.20 L324.20,39.20 L325.60,41.00 L326.60,43.00 L327.60,45.80 L328.50,47.70 L334.80,47.90 L337.20,49.10 L340.10,50.00 L342.50,50.60 L343.80,51.20 L345.00,52.20 L475.00,52.20" fill="none" stroke="#262626" stroke-width="1.55"/>
<path d="M308.00,31.00 L311.25,31.00 L311.25,59.40 L316.00,59.40 L316.00,69.75 L328.10,69.75 L328.10,89.50 L396.25,89.50 L396.25,105.00 L445.00,105.00" fill="none" stroke="#333" stroke-width="1.55" stroke-dasharray="3.4,2.6"/>
<path d="M31.80,299.80 L32.30,302.70 L33.80,304.70 L35.20,306.10 L36.20,308.00 L38.10,308.00 L38.60,313.80 L39.50,315.70 L41.00,318.60 L45.80,318.60 L46.30,324.80 L47.70,326.80 L49.60,329.20 L52.50,332.10 L58.80,332.10 L59.70,334.50 L64.50,334.50 L65.00,337.30 L103.30,337.30 L103.30,341.70 L189.00,341.70" fill="none" stroke="#262626" stroke-width="1.55"/>
<path d="M33.00,302.00 L35.50,308.00 L37.10,313.80 L37.60,318.10 L39.10,323.90 L40.00,330.60 L41.00,339.30 L41.90,344.10 L42.50,345.60 L47.50,345.60 L48.10,352.50 L49.40,358.75 L53.75,361.90 L58.10,364.40 L65.60,365.00 L67.50,368.00 L169.40,368.00" fill="none" stroke="#333" stroke-width="1.55" stroke-dasharray="3.4,2.6"/>
<path d="M309.30,298.80 L309.30,300.25 L316.50,300.25 L317.00,302.20 L324.20,302.20 L325.20,303.60 L326.60,305.10 L328.60,306.00 L330.00,308.20 L345.90,308.20 L346.30,310.40 L467.00,310.40" fill="none" stroke="#262626" stroke-width="1.55"/>
<path d="M309.50,299.20 L311.70,301.20 L313.20,305.50 L316.50,309.40 L318.50,310.30 L319.90,315.20 L322.80,317.10 L325.70,319.00 L327.10,320.90 L328.10,323.80 L329.00,326.70 L330.00,331.50 L331.40,334.40 L333.80,336.30 L337.70,338.20 L341.00,340.20 L343.00,341.80 L398.00,341.80 L398.00,350.50 L476.25,350.50" fill="none" stroke="#333" stroke-width="1.55" stroke-dasharray="3.4,2.6"/>
<path d="M33.00,558.80 L35.70,562.20 L37.60,563.80 L40.30,566.50 L42.60,567.20 L45.70,567.20 L46.10,572.60 L48.00,574.20 L50.70,577.20 L61.50,577.20 L61.80,579.50 L63.00,583.40 L64.90,584.80 L66.00,586.70 L69.40,588.50 L73.50,590.80 L87.00,590.80 L87.30,593.70 L98.20,593.70 L98.20,596.30 L176.60,596.30 L176.60,601.50 L205.00,601.50" fill="none" stroke="#262626" stroke-width="1.55"/>
<path d="M35.00,559.00 L41.50,559.30 L42.20,562.00 L45.00,564.50 L46.50,567.00 L47.50,572.00 L47.70,589.60 L48.70,593.70 L52.70,596.50 L54.50,600.00 L64.80,600.00 L65.40,604.00 L67.10,608.00 L68.90,611.50 L84.40,611.50 L85.60,615.00 L102.40,615.30 L102.40,620.80 L204.40,620.80" fill="none" stroke="#2a2a2a" stroke-width="1.3" stroke-dasharray="5.5,1.6,1.2,1.6"/>
<path d="M34.00,559.30 L41.10,560.00 L41.10,588.40 L46.80,588.40 L48.00,592.00 L49.50,600.00 L50.40,618.40 L65.40,618.40 L66.00,628.00 L66.60,638.60 L72.90,638.60 L72.90,648.40 L204.40,648.40" fill="none" stroke="#333" stroke-width="1.55" stroke-dasharray="3.4,2.6"/>
<path d="M310.60,558.60 L325.60,558.90 L325.60,560.00 L327.00,561.00 L341.25,561.00 L341.25,562.40 L342.50,563.10 L345.60,563.10 L345.60,564.40 L349.40,565.00 L351.90,565.60 L352.50,567.20 L384.20,567.20 L384.20,569.60 L482.60,569.60" fill="none" stroke="#262626" stroke-width="1.55"/>
<path d="M311.50,559.20 L320.00,559.80 L327.50,562.50 L331.25,565.00 L335.00,567.50 L342.50,568.75 L345.00,571.25 L347.00,575.00 L348.75,578.75 L350.50,582.50 L351.25,587.50 L353.75,588.60 L365.00,588.60 L367.50,591.25 L373.75,593.75 L375.00,595.90 L485.20,595.90" fill="none" stroke="#2a2a2a" stroke-width="1.3" stroke-dasharray="5.5,1.6,1.2,1.6"/>
<path d="M311.25,558.50 L318.00,558.50 L318.00,587.00 L328.75,587.00 L328.75,597.00 L352.50,597.00 L352.50,606.25 L356.25,607.50 L356.25,617.30 L483.40,617.30" fill="none" stroke="#333" stroke-width="1.55" stroke-dasharray="3.4,2.6"/>
</svg>
</body></html>
